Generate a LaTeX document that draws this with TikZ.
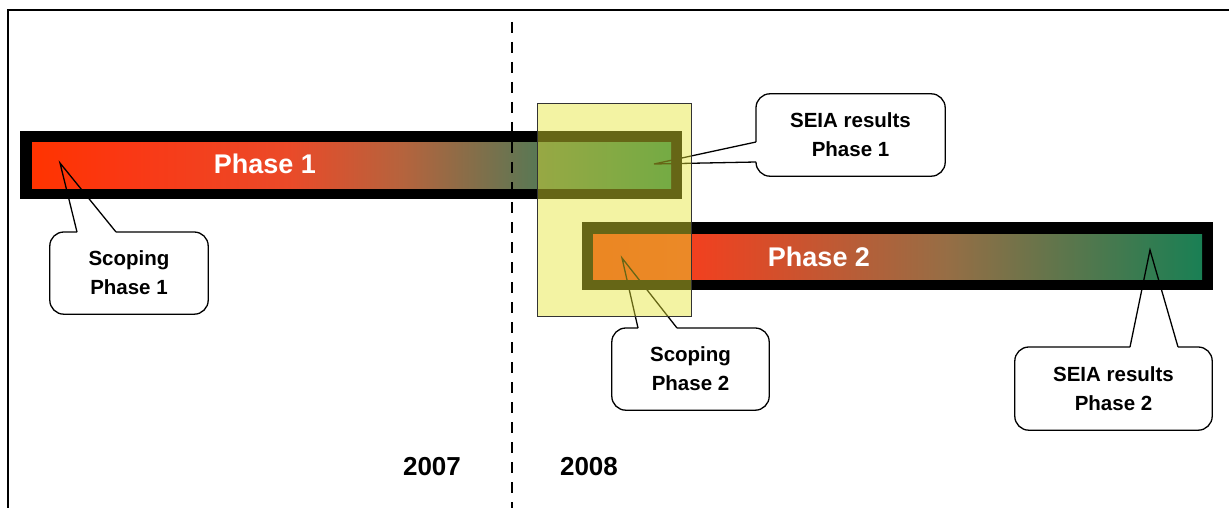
\documentclass[tikz,border=0pt]{standalone}
\usepackage{fontspec}
\setmainfont{Liberation Sans}
\definecolor{hiyellow}{RGB}{228,228,50}
% red to green along the bars
\pgfdeclarehorizontalshading{phaseone}{100bp}{rgb(0bp)=(1,0.2,0); rgb(25bp)=(1,0.2,0); rgb(32.5bp)=(0.98,0.22,0.08); rgb(45bp)=(0.92,0.29,0.16); rgb(54bp)=(0.71,0.39,0.24); rgb(64.5bp)=(0.35,0.47,0.33); rgb(75bp)=(0.1,0.49,0.33); rgb(100bp)=(0.1,0.49,0.33)}
\pgfdeclarehorizontalshading{phasetwo}{100bp}{rgb(0bp)=(0.95,0.23,0.09); rgb(25bp)=(0.95,0.23,0.09); rgb(33bp)=(0.95,0.25,0.12); rgb(54bp)=(0.59,0.43,0.27); rgb(75bp)=(0.1,0.5,0.33); rgb(100bp)=(0.1,0.5,0.33)}
\begin{document}
\begin{tikzpicture}[
		x=1pt, y=-1pt,
		barframe/.style={fill=black, inner sep=0pt, minimum height=68pt},
		barfill/.style={inner sep=0pt, minimum height=45pt},
		barlabel/.style={text=white, font=\fontsize{27}{32}\selectfont\bfseries},
		calloutbox/.style={inner sep=0pt, align=center, minimum height=82pt, font=\fontsize{20.5}{29}\selectfont\bfseries},
		calloutline/.style={line width=1.3pt, rounded corners=14pt},
		pointerline/.style={line width=1.3pt},
		yearlabel/.style={font=\fontsize{26}{30}\selectfont\bfseries}
	]
	\useasboundingbox (0,0) rectangle (1229,508);
	\draw[line width=2.5pt] (8,508) -- (8,10) -- (1229,10);

	% bars
	\node[barframe, minimum width=662pt] (ph1frame) at (351,165) {};
	\node[barfill, shading=phaseone, minimum width=639pt] (ph1fill) at (351.5,165.5) {};
	\node[barframe, minimum width=631pt] (ph2frame) at (897.5,256) {};
	\node[barfill, shading=phasetwo, minimum width=609pt] (ph2fill) at (897.5,256.5) {};
	\node[barlabel] (ph1label) at (265,164) {Phase 1};
	\node[barlabel] (ph2label) at (819,257) {Phase 2};

	\draw[line width=2.5pt, dash pattern=on 11pt off 9pt] (512,22) -- (512,508);

	% callouts
	\node[calloutbox, minimum width=158pt] (scop1) at (129,273) {Scoping\\Phase 1};
	\coordinate (scop1tip) at (60,163);
	\coordinate (scop1a) at (77,232);
	\coordinate (scop1b) at (116,232);
	\draw[calloutline] (scop1b) -| (scop1.east) |- (scop1.south) -| (scop1.west) |- (scop1a);
	\draw[pointerline] (scop1a) -- (scop1tip) -- (scop1b);

	\node[calloutbox, minimum width=157pt] (scop2) at (690.5,369) {Scoping\\Phase 2};
	\coordinate (scop2tip) at (622,258);
	\coordinate (scop2a) at (638,328);
	\coordinate (scop2b) at (677,328);
	\draw[calloutline] (scop2b) -| (scop2.east) |- (scop2.south) -| (scop2.west) |- (scop2a);
	\draw[pointerline] (scop2a) -- (scop2tip) -- (scop2b);

	\node[calloutbox, minimum width=189pt] (seia1) at (850.5,135) {SEIA results\\Phase 1};
	\coordinate (seia1tip) at (654,164);
	\coordinate (seia1a) at (756,142);
	\coordinate (seia1b) at (756,162);
	\draw[calloutline] (seia1b) |- (seia1.south) -| (seia1.east) |- (seia1.north) -| (seia1a);
	\draw[pointerline] (seia1a) -- (seia1tip) -- (seia1b);

	\node[calloutbox, minimum width=197pt, minimum height=83pt] (seia2) at (1113.5,388.5) {SEIA results\\Phase 2};
	\coordinate (seia2tip) at (1150,250);
	\coordinate (seia2a) at (1130,347);
	\coordinate (seia2b) at (1178,347);
	\draw[calloutline] (seia2b) -| (seia2.east) |- (seia2.south) -| (seia2.west) |- (seia2a);
	\draw[pointerline] (seia2a) -- (seia2tip) -- (seia2b);

	% overlap of the two phases
	\node[fill=hiyellow, fill opacity=0.45, draw=black!80, line width=1pt, inner sep=0pt, minimum width=154pt, minimum height=212pt] (overlap) at (614,210) {};

	\node[yearlabel] (y2007) at (432,467) {2007};
	\node[yearlabel] (y2008) at (589,467) {2008};
\end{tikzpicture}
\end{document}
